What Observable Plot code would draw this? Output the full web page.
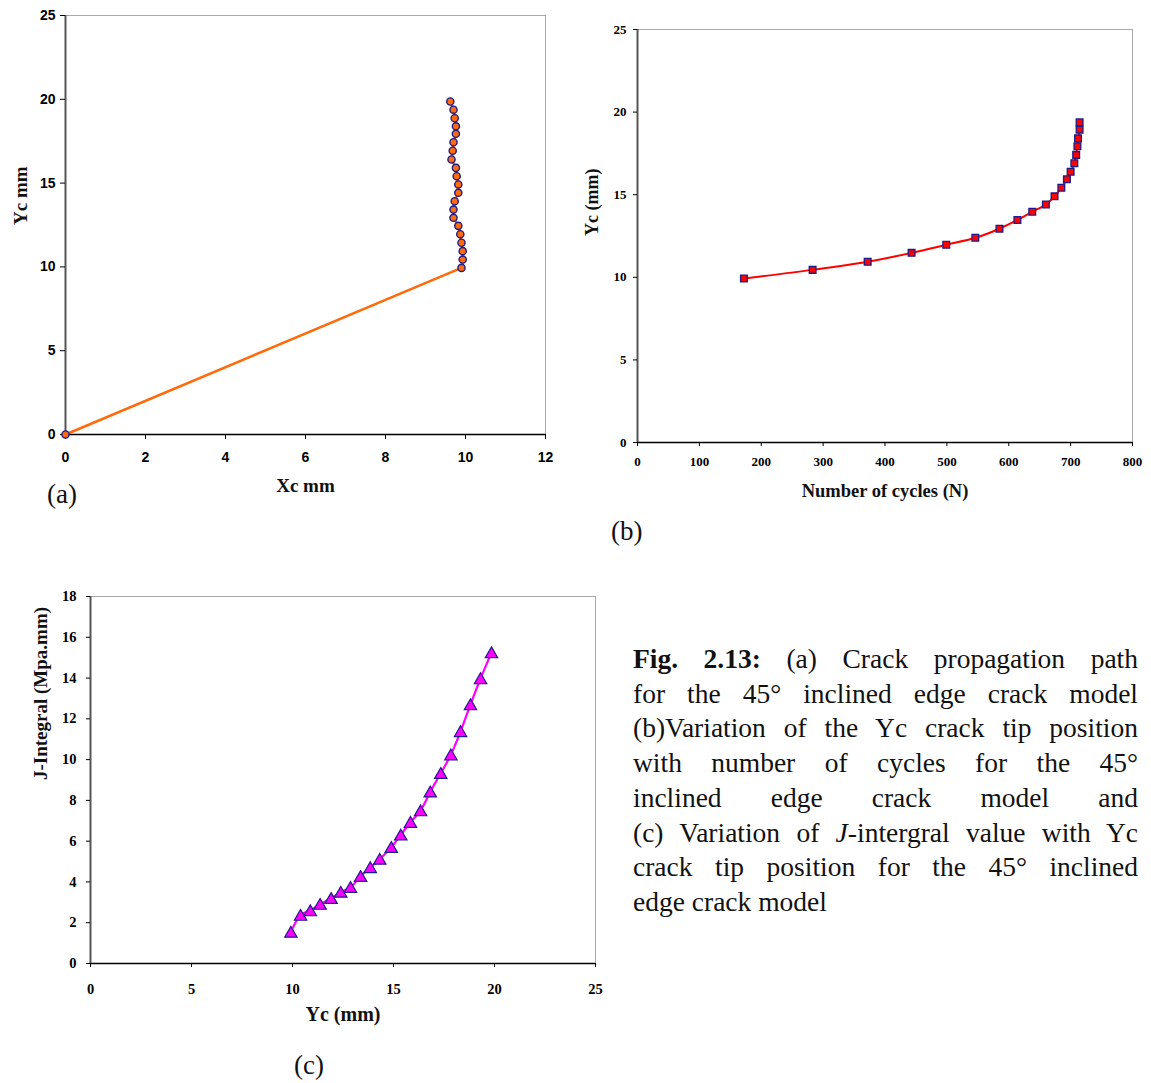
<!DOCTYPE html>
<html>
<head>
<meta charset="utf-8">
<script src="https://cdn.jsdelivr.net/npm/d3@7"></script>
<script src="https://cdn.jsdelivr.net/npm/@observablehq/plot@0.6"></script>
<style>
  body { margin: 0; background: #fff; width: 1151px; height: 1083px; position: relative; overflow: hidden; }
  .panel { position: absolute; }
  .tag { position: absolute; font-family: "Liberation Serif", serif; font-size: 27px; line-height: 1; color: #111; }
  #caption { position: absolute; left: 633px; top: 642px; width: 505px; font-family: "Liberation Serif", serif;
             font-size: 27.5px; line-height: 34.7px; color: #111; }
  #caption span { display: block; text-align: justify; text-align-last: justify; white-space: nowrap; }
  #caption span.last { text-align-last: left; }
</style>
</head>
<body>
<div id="pa" class="panel" style="left:0;top:0"></div>
<div id="pb" class="panel" style="left:580px;top:0"></div>
<div id="pc" class="panel" style="left:0;top:560px"></div>
<div class="tag" style="left:47px;top:481px">(a)</div>
<div class="tag" style="left:611px;top:518px">(b)</div>
<div class="tag" style="left:294px;top:1052px">(c)</div>
<div id="caption">
  <span><b>Fig. 2.13:</b> (a) Crack propagation path</span>
  <span>for the 45° inclined edge crack model</span>
  <span>(b)Variation of the Yc crack tip position</span>
  <span>with number of cycles for the 45°</span>
  <span>inclined edge crack model and</span>
  <span>(c) Variation of <i>J</i>-intergral value with Yc</span>
  <span>crack tip position for the 45° inclined</span>
  <span class="last">edge crack model</span>
</div>
<script>
// (a) crack tip path: initial 45° edge crack, then propagation steps
const pathXc = [0, 9.90, 9.93, 9.93, 9.90, 9.87, 9.82, 9.70, 9.70, 9.73, 9.82, 9.82, 9.78, 9.76, 9.65, 9.68, 9.70, 9.76, 9.76, 9.73, 9.70, 9.62];
const pathYc = [0, 9.94, 10.44, 10.94, 11.44, 11.95, 12.45, 12.93, 13.42, 13.92, 14.42, 14.92, 15.41, 15.91, 16.41, 16.93, 17.44, 17.94, 18.39, 18.87, 19.38, 19.87];

// (b) Yc crack tip position vs number of cycles
const cycles = [172, 283, 372, 443, 499, 546, 585, 614, 638, 660, 674, 685, 694, 700, 706, 709, 711, 712, 714.5, 714.5];
const cycleYc = [9.93, 10.45, 10.94, 11.48, 11.97, 12.39, 12.94, 13.47, 13.97, 14.41, 14.90, 15.42, 15.93, 16.39, 16.90, 17.41, 17.93, 18.41, 18.94, 19.38];

// (c) J-integral vs Yc crack tip position
const jYc = [9.92, 10.40, 10.88, 11.37, 11.91, 12.39, 12.87, 13.37, 13.85, 14.32, 14.89, 15.36, 15.84, 16.34, 16.82, 17.34, 17.84, 18.32, 18.81, 19.31, 19.85];
const jIntegral = [1.54, 2.37, 2.60, 2.91, 3.20, 3.50, 3.74, 4.28, 4.71, 5.12, 5.70, 6.31, 6.93, 7.50, 8.42, 9.33, 10.24, 11.38, 12.70, 13.98, 15.25];

// tick values
const ticksAX = [0, 2, 4, 6, 8, 10, 12];
const ticksAY = [0, 5, 10, 15, 20, 25];
const ticksBX = [0, 100, 200, 300, 400, 500, 600, 700, 800];
const ticksBY = [0, 5, 10, 15, 20, 25];
const ticksCX = [0, 5, 10, 15, 20, 25];
const ticksCY = [0, 2, 4, 6, 8, 10, 12, 14, 16, 18];

const SERIF = "Liberation Serif, Times New Roman, serif";
const SANS = "Liberation Sans, Arial, sans-serif";
const NAVY = "#1c1c8a";

const rows = (xs, ys) => xs.map((x, i) => ({x, y: ys[i]}));

// shared frame: light top/right border, dark left axis, black bottom axis
function frameMarks() {
  return [
    Plot.frame({stroke: "#a8a8a8", strokeWidth: 1}),
    Plot.ruleX([0], {stroke: "#555", strokeWidth: 2}),
    Plot.ruleY([0], {stroke: "#000", strokeWidth: 1.5})
  ];
}
function title(text, opts) {
  return Plot.text([text], {text: d => d, fontFamily: SERIF, fontWeight: "bold", fontSize: 19, fill: "#111", ...opts});
}

// ---- (a)
const dataA = rows(pathXc, pathYc);
const plotA = Plot.plot({
  width: 570, height: 520,
  marginLeft: 65, marginRight: 25, marginTop: 15, marginBottom: 86,
  x: {domain: [0, 12]},
  y: {domain: [0, 25]},
  marks: [
    ...frameMarks(),
    Plot.axisX({ticks: ticksAX, tickSize: 5, tickPadding: 13, fontSize: 14, fontWeight: "bold", fontFamily: SANS, label: null}),
    Plot.axisY({ticks: ticksAY, tickSize: 5, tickPadding: 5, fontSize: 14, fontWeight: "bold", fontFamily: SANS, label: null}),
    title("Xc mm", {frameAnchor: "bottom", dy: 57}),
    title("Yc mm", {frameAnchor: "left", dx: -45, rotate: -90}),
    Plot.line(dataA, {x: "x", y: "y", stroke: "#ff6a0a", strokeWidth: 2.5}),
    Plot.dot(dataA, {x: "x", y: "y", r: 3.6, fill: "#ff6a0a", stroke: NAVY, strokeWidth: 1.4})
  ]
});
document.getElementById("pa").append(plotA);

// ---- (b)
const dataB = rows(cycles, cycleYc);
const plotB = Plot.plot({
  width: 571, height: 520,
  marginLeft: 57, marginRight: 19, marginTop: 29, marginBottom: 78,
  x: {domain: [0, 800]},
  y: {domain: [0, 25]},
  marks: [
    ...frameMarks(),
    Plot.axisX({ticks: ticksBX, tickSize: 4, tickPadding: 10, fontSize: 13, fontWeight: "bold", fontFamily: SERIF, label: null}),
    Plot.axisY({ticks: ticksBY, tickSize: 4, tickPadding: 7, fontSize: 13, fontWeight: "bold", fontFamily: SERIF, label: null}),
    title("Number of cycles (N)", {frameAnchor: "bottom", dy: 54, fontSize: 18.5}),
    title("Yc (mm)", {frameAnchor: "left", dx: -45, rotate: -90, fontSize: 18}),
    Plot.line(dataB, {x: "x", y: "y", stroke: "#ff0000", strokeWidth: 2, curve: "catmull-rom"}),
    Plot.dot(dataB, {x: "x", y: "y", symbol: "square", r: 3.8, fill: "#ff0000", stroke: NAVY, strokeWidth: 1.3})
  ]
});
document.getElementById("pb").append(plotB);

// ---- (c)
const dataC = rows(jYc, jIntegral);
const plotC = Plot.plot({
  width: 610, height: 480,
  marginLeft: 90, marginRight: 15, marginTop: 36, marginBottom: 77,
  x: {domain: [0, 25]},
  y: {domain: [0, 18]},
  marks: [
    ...frameMarks(),
    Plot.axisX({ticks: ticksCX, tickSize: 4, tickPadding: 16, fontSize: 14.5, fontWeight: "bold", fontFamily: SERIF, label: null}),
    Plot.axisY({ticks: ticksCY, tickSize: 4, tickPadding: 10, fontSize: 14.5, fontWeight: "bold", fontFamily: SERIF, label: null}),
    title("Yc (mm)", {frameAnchor: "bottom", dy: 57, fontSize: 20}),
    title("J-Integral (Mpa.mm)", {frameAnchor: "left", dx: -50, rotate: -90, fontSize: 19}),
    Plot.line(dataC, {x: "x", y: "y", stroke: "#ff00ff", strokeWidth: 2.2, curve: "catmull-rom"}),
    Plot.dot(dataC, {x: "x", y: "y", symbol: "triangle", r: 4.6, dy: 1.5, fill: "#ff00ff", stroke: NAVY, strokeWidth: 1.2})
  ]
});
document.getElementById("pc").append(plotC);
</script>
</body>
</html>
